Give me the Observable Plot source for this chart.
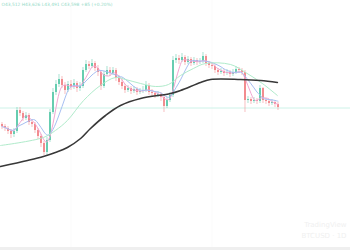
<!DOCTYPE html>
<html><head><meta charset="utf-8">
<script src="https://cdn.jsdelivr.net/npm/d3@7"></script>
<script src="https://cdn.jsdelivr.net/npm/@observablehq/plot@0.6"></script>
<style>
html,body{margin:0;padding:0;background:#fff;}
#wrap{position:relative;width:350px;height:250px;overflow:hidden;}
#bar{position:absolute;left:0;bottom:0;width:350px;height:3px;background:#efefef;}
</style>
</head><body>
<div id="wrap"><div id="chart"></div><div id="bar"></div></div>
<script>
// candle closes (price units), one per candle
const closes = [174,172,169,166,169,190,187,182,185,178,176,170,164,157,148,160,188,208,216,221,215,210,216,213,217,212,214,230,236,234,237,232,228,214,226,230,227,230,222,218,214,210,212,209,211,208,209,210,215,208,207,205,206,203,194,200,205,240,242,240,243,238,241,237,240,238,239,244,237,235,234,230,228,229,227,228,226,228,231,230,228,200,201,199,200,199,212,200,199,197,198,196,193];
const firstOpen = 176;
const highs = [178,176,174,171,172,193,193,189,188,187,181,178,172,166,159,163,191,212,220,226,224,218,219,220,221,219,218,233,240,239,241,239,235,230,229,234,233,233,232,225,221,216,215,214,214,213,212,214,219,217,211,209,209,208,205,203,208,244,246,245,247,245,244,243,243,242,242,248,246,239,237,236,232,232,231,231,230,231,234,233,232,230,204,203,203,202,215,213,202,201,201,200,198];
const lows = [171,169,166,162,163,167,184,179,180,175,173,167,161,153,145,145,158,186,205,213,212,206,208,210,211,208,209,212,228,231,232,229,224,210,212,224,224,225,219,215,211,207,208,206,207,205,206,207,208,205,204,202,203,199,188,192,198,203,237,236,238,235,236,234,235,235,236,237,234,232,231,227,225,226,224,225,223,224,226,227,225,188,197,196,197,196,197,197,196,194,195,193,190];
// slow moving average: candle index, value
const maSlowIdx = [-0.5,8.5,13.8,17.8,21.8,26.2,29.5,34.5,39.5,46.2,56.2,59.5,66.2,69.5,79.5,86.2,91.8];
const maSlowVal = [134,140,144,148,153,162,172,185,195,202,207,210,218,221,221,220,218];
// medium moving average
const maMidIdx = [-0.5,13.8,17.8,21.8,27.2,32.8,37.8,41.2,46.2,51.2,55.5,59.5,63.8,67.8,76.2,81.2,86.8,91.8];
const maMidVal = [155,163,170,180,200,215,223,221,217,214,216,225,232,237,236,228,217,205];
const lastPrice = 192.5;
const headerText = "O43,512 H43,626 L43,491 C43,598 +85 (+0.20%)";
const watermark1 = "TradingView";
const watermark2 = "BTCUSD · 1D";

const candles = closes.map((c, i) => ({
  i, close: c, open: i === 0 ? firstOpen : closes[i - 1], high: highs[i], low: lows[i]
}));
candles.forEach(d => d.up = d.close >= d.open);
const slow = maSlowIdx.map((x, k) => ({x, y: maSlowVal[k]}));
const mid = maMidIdx.map((x, k) => ({x, y: maMidVal[k]}));

const UP = "#66cdb0", DOWN = "#f28c8f";

const chart = Plot.plot({
  width: 350, height: 250,
  margin: 0,
  x: {domain: [-0.5, 116.17], axis: null},
  y: {domain: [50, 300], axis: null},
  marks: [
    Plot.ruleX([23, 70, 117], {stroke: "#fbfbfb", strokeWidth: 1}),
    Plot.ruleY([lastPrice], {stroke: "#cdf2e8", strokeWidth: 1}),
    Plot.ruleX(candles, {x: "i", y1: "low", y2: "high", stroke: d => d.up ? UP : DOWN, strokeWidth: 0.7, strokeOpacity: 0.8}),
    Plot.ruleX(candles, {x: "i", y1: "open", y2: "close", stroke: d => d.up ? UP : DOWN, strokeWidth: 2}),
    Plot.line(candles, Plot.windowY({k: 4, anchor: "end", reduce: "mean"}, {x: "i", y: "close", stroke: "#f2a6d2", strokeWidth: 1, curve: "basis"})),
    Plot.line(candles, Plot.windowY({k: 7, anchor: "end", reduce: "mean"}, {x: "i", y: "close", stroke: "#a7bff2", strokeWidth: 1, curve: "basis"})),
    Plot.line(mid, {x: "x", y: "y", stroke: "#b0ebcb", strokeWidth: 1, curve: "catmull-rom"}),
    Plot.line(slow, {x: "x", y: "y", stroke: "#383838", strokeWidth: 1.6, curve: "catmull-rom"}),
    Plot.text([headerText], {frameAnchor: "top-left", dx: 1, dy: 2, text: d => d, fontSize: 4.4, fill: "#93d9c6", fontFamily: "DejaVu Sans", textAnchor: "start"}),
    Plot.text([watermark1], {frameAnchor: "bottom-right", dx: -4, dy: -24, text: d => d, fill: "#f0f0f0", fontSize: 7, fontFamily: "DejaVu Sans"}),
    Plot.text([watermark2], {frameAnchor: "bottom-right", dx: -4, dy: -13, text: d => d, fill: "#f0f0f0", fontSize: 7, fontFamily: "DejaVu Sans"})
  ]
});
document.getElementById("chart").appendChild(chart);
</script>
</body></html>
